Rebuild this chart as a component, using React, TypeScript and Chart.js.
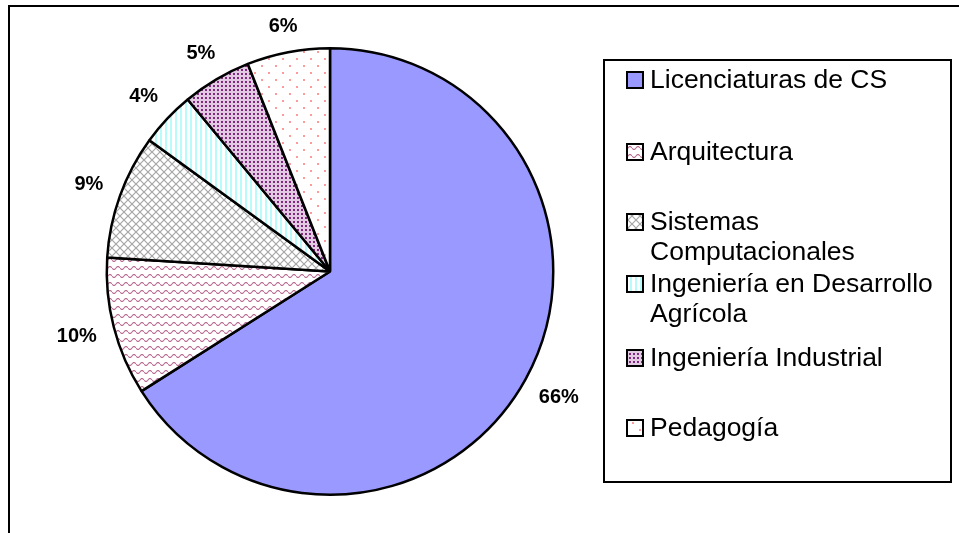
import React, { useEffect, useRef } from "react";
import { Chart, registerables } from "chart.js";

Chart.register(...registerables);

const categories = [
  "Licenciaturas de CS",
  "Arquitectura",
  "Sistemas Computacionales",
  "Ingeniería en Desarrollo Agrícola",
  "Ingeniería Industrial",
  "Pedagogía",
];
const percentages = [66, 10, 9, 4, 5, 6];
const percentLabels = ["66%", "10%", "9%", "4%", "5%", "6%"];

function makeTile(w: number, h: number, draw: (c: CanvasRenderingContext2D) => void): CanvasPattern | string {
  const cv = document.createElement("canvas");
  cv.width = w;
  cv.height = h;
  const c = cv.getContext("2d")!;
  c.fillStyle = "#ffffff";
  c.fillRect(0, 0, w, h);
  draw(c);
  const p = document.createElement("canvas").getContext("2d")!.createPattern(cv, "repeat");
  return p || "#ffffff";
}

function buildFills(): (CanvasPattern | string)[] {
  const wave = makeTile(8, 8, (c) => {
    c.strokeStyle = "rgba(160,60,110,0.75)";
    c.lineWidth = 1.1;
    c.beginPath();
    for (let x = 0; x <= 8; x += 0.5) {
      const y = 4 + 1.5 * Math.sin((x / 8) * Math.PI * 2);
      if (x === 0) c.moveTo(x, y);
      else c.lineTo(x, y);
    }
    c.stroke();
  });
  const cross = makeTile(8, 8, (c) => {
    c.strokeStyle = "#a6a6a6";
    c.lineWidth = 1.2;
    c.beginPath();
    c.moveTo(0, 0);
    c.lineTo(8, 8);
    c.moveTo(8, 0);
    c.lineTo(0, 8);
    c.stroke();
  });
  const vstripe = makeTile(5, 5, (c) => {
    c.fillStyle = "#b8fbfb";
    c.fillRect(0, 0, 2, 5);
  });
  const dense = makeTile(4, 4, (c) => {
    c.fillStyle = "#e2cbe2";
    c.fillRect(0, 0, 4, 4);
    c.fillStyle = "#7f2a7f";
    c.fillRect(1, 1, 2, 2);
  });
  const sparse = makeTile(14, 14, (c) => {
    c.fillStyle = "#ff9a9a";
    c.fillRect(2, 2, 2, 2);
    c.fillRect(9, 9, 2, 2);
  });
  return ["#9999ff", wave, cross, vstripe, dense, sparse];
}

const FONT = "'Liberation Sans', Arial, sans-serif";

export default function App() {
  const ref = useRef<HTMLCanvasElement | null>(null);

  useEffect(() => {
    document.body.style.margin = "0";
    const canvas = ref.current!;
    const fills = buildFills();

    const framePlugin = {
      id: "frame",
      beforeDraw(chart: any) {
        const ctx = chart.ctx as CanvasRenderingContext2D;
        ctx.save();
        ctx.fillStyle = "#ffffff";
        ctx.fillRect(0, 0, chart.width, chart.height);
        ctx.strokeStyle = "#000000";
        ctx.lineWidth = 2;
        ctx.beginPath();
        ctx.moveTo(9, chart.height);
        ctx.lineTo(9, 6);
        ctx.lineTo(chart.width, 6);
        ctx.stroke();
        ctx.restore();
      },
    };

    const labelPlugin = {
      id: "outsideLabels",
      afterDatasetsDraw(chart: any) {
        const ctx = chart.ctx as CanvasRenderingContext2D;
        const meta = chart.getDatasetMeta(0);
        ctx.save();
        ctx.font = `bold 20px ${FONT}`;
        ctx.fillStyle = "#000000";
        ctx.textAlign = "center";
        ctx.textBaseline = "middle";
        meta.data.forEach((arc: any, i: number) => {
          const p = arc.getProps(["x", "y", "startAngle", "endAngle", "outerRadius"], true);
          const mid = (p.startAngle + p.endAngle) / 2;
          const cx = Math.cos(mid);
          const sy = Math.sin(mid);
          const text = percentLabels[i];
          const w = ctx.measureText(text).width;
          const h = 14;
          const ext = Math.abs(cx) * (w / 2) + Math.abs(sy) * (h / 2);
          const d = p.outerRadius + 17 + ext;
          ctx.fillText(text, p.x + cx * d, p.y + sy * d);
        });
        ctx.restore();
      },
    };

    const legendPlugin = {
      id: "boxLegend",
      afterDraw(chart: any) {
        const ctx = chart.ctx as CanvasRenderingContext2D;
        const left = 604, top = 60, right = 951, bottom = 482;
        ctx.save();
        ctx.strokeStyle = "#000000";
        ctx.lineWidth = 2;
        ctx.strokeRect(left, top, right - left, bottom - top);
        ctx.font = `26.5px ${FONT}`;
        ctx.textBaseline = "middle";
        ctx.textAlign = "left";
        const textX = 650;
        const maxW = right - textX - 6;
        const firstLineY = [80, 152, 222, 284, 358, 428];
        const lineH = 30;
        const ds = chart.data.datasets[0];
        (chart.data.labels as string[]).forEach((label: string, i: number) => {
          const words = label.split(" ");
          const lines: string[] = [];
          let cur = "";
          words.forEach((wd) => {
            const test = cur ? cur + " " + wd : wd;
            if (ctx.measureText(test).width > maxW && cur) {
              lines.push(cur);
              cur = wd;
            } else cur = test;
          });
          if (cur) lines.push(cur);
          const y0 = firstLineY[i];
          ctx.fillStyle = ds.backgroundColor[i];
          ctx.fillRect(627, y0 - 8, 16, 16);
          ctx.strokeStyle = "#000000";
          ctx.lineWidth = 2;
          ctx.strokeRect(627, y0 - 8, 16, 16);
          ctx.fillStyle = "#000000";
          lines.forEach((ln, k) => ctx.fillText(ln, textX, y0 + 1 + k * lineH));
        });
        ctx.restore();
      },
    };

    const chart = new Chart(canvas, {
      type: "pie",
      data: {
        labels: categories,
        datasets: [
          {
            data: percentages,
            backgroundColor: fills as any,
            borderColor: "#000000",
            borderWidth: 2.5,
            hoverOffset: 0,
          },
        ],
      },
      options: {
        animation: false,
        responsive: false,
        maintainAspectRatio: false,
        events: [],
        layout: { padding: { left: 105, right: 404, top: 47, bottom: 37 } },
        plugins: {
          legend: { display: false },
          tooltip: { enabled: false },
        },
      },
      plugins: [framePlugin, labelPlugin, legendPlugin],
    });
    return () => chart.destroy();
  }, []);

  return <canvas ref={ref} width={959} height={533} style={{ display: "block" }} />;
}
